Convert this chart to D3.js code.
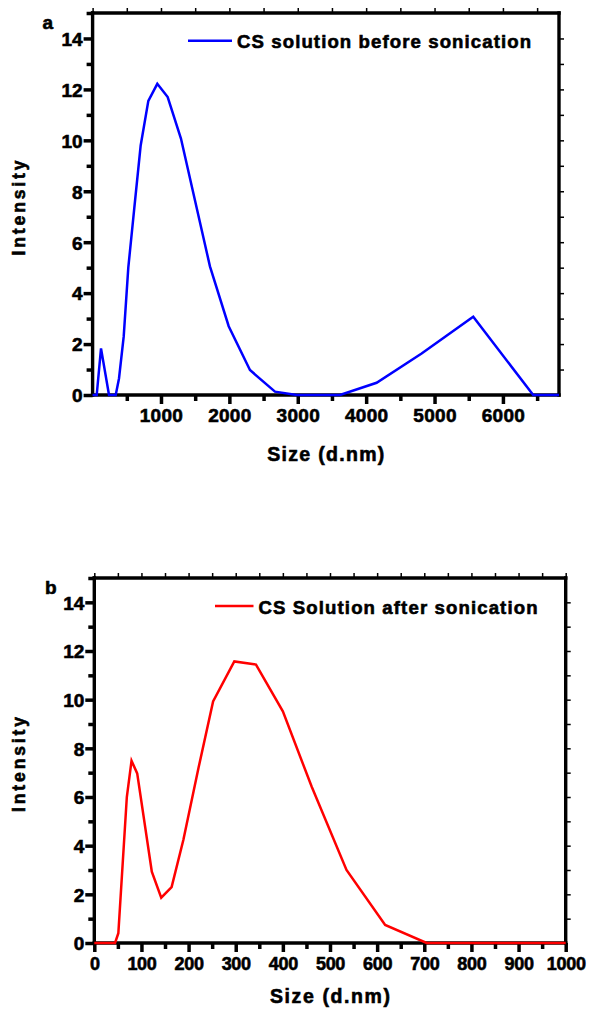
<!DOCTYPE html>
<html>
<head>
<meta charset="utf-8">
<script src="https://cdn.jsdelivr.net/npm/d3@7"></script>
<style>
  body { margin: 0; background: #fff; }
  text { font-family: "Liberation Sans", Arial, sans-serif; font-weight: bold; fill: #000; stroke: #000; stroke-width: 0.6px; }
</style>
</head>
<body>
<div id="container"></div>
<script>
// panel a: before sonication
let sizeA = [0, 60, 123, 240, 338, 386, 455, 522, 610, 703, 815, 946, 1098, 1292, 1716, 1990, 2301, 2667, 2984, 3617, 4153, 4811, 5566, 6443, 6820];
let intA  = [0, 0, 1.83, 0, 0, 0.65, 2.3, 5.0, 7.35, 9.8, 11.55, 12.22, 11.7, 10.07, 5.05, 2.7, 0.98, 0.13, 0, 0, 0.48, 1.63, 3.07, 0, 0];
let xTicksA = [1000, 2000, 3000, 4000, 5000, 6000];
let xMinorA = [500, 1500, 2500, 3500, 4500, 5500, 6500];

// panel b: after sonication
let sizeB = [0, 44, 51, 69, 79, 91, 122, 142, 164, 189, 221, 252, 297, 343, 400, 461, 535, 617, 705, 1000];
let intB  = [0, 0, 0.4, 6.0, 7.49, 6.97, 2.93, 1.86, 2.3, 4.24, 7.19, 9.93, 11.57, 11.44, 9.52, 6.43, 3.0, 0.74, 0, 0];
let xTicksB = [0, 100, 200, 300, 400, 500, 600, 700, 800, 900, 1000];
let xMinorB = [50, 150, 250, 350, 450, 550, 650, 750, 850, 950];

let yTicks = [0, 2, 4, 6, 8, 10, 12, 14];
let yMinor = [1, 3, 5, 7, 9, 11, 13, 15];

let w = 590;
let h = 1009;
let viz = d3.select("#container")
  .append("svg")
    .attr("width", w)
    .attr("height", h)
;

function drawPanel(p){
  let xScale = d3.scaleLinear().domain(p.xDomain).range([p.left, p.right]);
  let yScale = d3.scaleLinear().domain([0, 15]).range([p.bottom, p.top]);
  let g = viz.append("g");

  // mirror ticks on top and right (thin, short)
  let topTicks = d3.range(p.xDomain[0], p.xDomain[1] + 1, p.topStep);
  g.append("g")
    .attr("transform", "translate(0," + p.top + ")")
    .call(d3.axisTop(xScale).tickValues(topTicks).tickSize(5).tickFormat(""))
    .call(s => s.select(".domain").remove())
    .selectAll("line").style("stroke-width", "1.5px");
  g.append("g")
    .attr("transform", "translate(" + p.right + ",0)")
    .call(d3.axisRight(yScale).tickValues(d3.range(1, 15)).tickSize(5).tickFormat(""))
    .call(s => s.select(".domain").remove())
    .selectAll("line").style("stroke-width", "1.5px");

  // minor ticks
  g.append("g")
    .attr("transform", "translate(0," + p.bottom + ")")
    .call(d3.axisBottom(xScale).tickValues(p.xMinor).tickSize(6).tickFormat(""))
    .call(s => s.select(".domain").remove())
    .selectAll("line").style("stroke-width", "3.5px");
  g.append("g")
    .attr("transform", "translate(" + p.left + ",0)")
    .call(d3.axisLeft(yScale).tickValues(yMinor).tickSize(6).tickFormat(""))
    .call(s => s.select(".domain").remove())
    .selectAll("line").style("stroke-width", "3.5px");

  // major ticks with labels
  let xAxisGroup = g.append("g")
    .attr("transform", "translate(0," + p.bottom + ")")
    .call(d3.axisBottom(xScale).tickValues(p.xTicks).tickSize(9).tickPadding(5).tickFormat(d3.format("d")));
  xAxisGroup.select(".domain").remove();
  xAxisGroup.selectAll("line").style("stroke-width", "3.5px");
  xAxisGroup.selectAll("text")
    .style("font-size", p.tickFont + "px")
    .attr("letter-spacing", p.tickSpacing)
    .attr("dy", "0.71em");

  let yAxisGroup = g.append("g")
    .attr("transform", "translate(" + p.left + ",0)")
    .call(d3.axisLeft(yScale).tickValues(yTicks).tickSize(9).tickPadding(1));
  yAxisGroup.select(".domain").remove();
  yAxisGroup.selectAll("line").style("stroke-width", "3.5px");
  yAxisGroup.selectAll("text").style("font-size", "19px").attr("dy", "0.36em");

  // frame, drawn as four lines
  let frame = [
    [p.left, p.top, p.right, p.top],
    [p.right, p.top, p.right, p.bottom],
    [p.right, p.bottom, p.left, p.bottom],
    [p.left, p.bottom, p.left, p.top]
  ];
  g.selectAll(".frame").data(frame).enter()
    .append("line")
      .attr("class", "frame")
      .attr("x1", d => d[0]).attr("y1", d => d[1])
      .attr("x2", d => d[2]).attr("y2", d => d[3])
      .attr("stroke", "#000")
      .attr("stroke-width", 3.4)
      .attr("stroke-linecap", "square");

  // the curve
  let points = p.sizes.map((s, i) => [s, p.values[i]]);
  let lineMaker = d3.line()
    .x(d => xScale(d[0]))
    .y(d => yScale(d[1]));
  g.append("path")
    .attr("d", lineMaker(points))
    .style("fill", "none")
    .style("stroke", p.color)
    .style("stroke-width", "2.5px");

  // legend
  g.append("line")
    .attr("x1", p.legX1).attr("x2", p.legX2)
    .attr("y1", p.legY).attr("y2", p.legY)
    .style("stroke", p.color)
    .style("stroke-width", "2.5px");
  g.append("text")
    .attr("x", p.legX2 + 5)
    .attr("y", p.legY + 7.5)
    .attr("textLength", p.legLen)
    .attr("lengthAdjust", "spacing")
    .style("font-size", "18.6px")
    .text(p.legend);

  // axis titles
  let cx = (p.left + p.right) / 2;
  g.append("text")
    .attr("x", cx)
    .attr("y", p.xTitleY)
    .attr("text-anchor", "middle")
    .attr("textLength", p.xTitleLen)
    .attr("lengthAdjust", "spacing")
    .style("font-size", "19.5px")
    .text("Size (d.nm)");
  let cy = (p.top + p.bottom) / 2 + 4;
  g.append("text")
    .attr("transform", "translate(25," + cy + ") rotate(-90)")
    .attr("text-anchor", "middle")
    .attr("textLength", 95)
    .attr("lengthAdjust", "spacing")
    .style("font-size", "17.5px")
    .text("Intensity");

  // panel letter
  g.append("text")
    .attr("x", p.letterX)
    .attr("y", p.letterY)
    .style("font-size", "19px")
    .text(p.letter);
}

drawPanel({
  sizes: sizeA, values: intA, color: "#0000ff",
  xDomain: [0, 6820], xTicks: xTicksA, xMinor: xMinorA, topStep: 500,
  left: 92.6, right: 559, top: 13, bottom: 395,
  tickFont: 19, tickSpacing: 0.3,
  legX1: 188, legX2: 232, legY: 40.7, legLen: 294,
  legend: "CS solution before sonication",
  xTitleY: 460.7, xTitleLen: 117,
  letter: "a", letterX: 42.5, letterY: 29
});

drawPanel({
  sizes: sizeB, values: intB, color: "#ff0000",
  xDomain: [0, 1000], xTicks: xTicksB, xMinor: xMinorB, topStep: 50,
  left: 94.3, right: 565.7, top: 578, bottom: 943,
  tickFont: 18, tickSpacing: -0.3,
  legX1: 215, legX2: 253.5, legY: 606, legLen: 279,
  legend: "CS Solution after sonication",
  xTitleY: 1003, xTitleLen: 120,
  letter: "b", letterX: 45, letterY: 594
});
</script>
</body>
</html>
